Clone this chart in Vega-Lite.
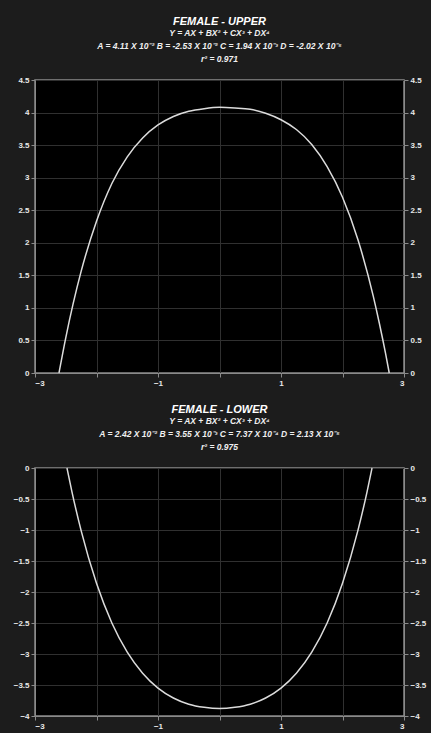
{
  "$schema": "https://vega.github.io/schema/vega-lite/v6.json",
  "background": "#1c1c1c",
  "padding": {"left": 12, "top": 14, "right": 4, "bottom": 2},
  "datasets": {
    "upper": [
      {"x": -2.61, "y": 0}, {"x": -2.5, "y": 0.54}, {"x": -2.25, "y": 1.56}, {"x": -2.0, "y": 2.33},
      {"x": -1.75, "y": 2.91}, {"x": -1.5, "y": 3.32}, {"x": -1.25, "y": 3.61}, {"x": -1.0, "y": 3.81},
      {"x": -0.75, "y": 3.94}, {"x": -0.5, "y": 4.02}, {"x": -0.25, "y": 4.06}, {"x": 0, "y": 4.08},
      {"x": 0.25, "y": 4.07}, {"x": 0.5, "y": 4.05}, {"x": 0.75, "y": 3.99}, {"x": 1.0, "y": 3.89},
      {"x": 1.25, "y": 3.74}, {"x": 1.5, "y": 3.51}, {"x": 1.75, "y": 3.17}, {"x": 2.0, "y": 2.7},
      {"x": 2.25, "y": 2.05}, {"x": 2.5, "y": 1.18}, {"x": 2.6, "y": 0.76}, {"x": 2.7, "y": 0.3},
      {"x": 2.76, "y": 0}
    ],
    "lower": [
      {"x": -2.48, "y": 0}, {"x": -2.4, "y": -0.38}, {"x": -2.25, "y": -1.01}, {"x": -2.0, "y": -1.86},
      {"x": -1.75, "y": -2.5}, {"x": -1.5, "y": -2.97}, {"x": -1.25, "y": -3.31}, {"x": -1.0, "y": -3.55},
      {"x": -0.75, "y": -3.71}, {"x": -0.5, "y": -3.81}, {"x": -0.25, "y": -3.86}, {"x": 0, "y": -3.88},
      {"x": 0.25, "y": -3.86}, {"x": 0.5, "y": -3.81}, {"x": 0.75, "y": -3.71}, {"x": 1.0, "y": -3.55},
      {"x": 1.25, "y": -3.31}, {"x": 1.5, "y": -2.97}, {"x": 1.75, "y": -2.5}, {"x": 2.0, "y": -1.86},
      {"x": 2.25, "y": -1.01}, {"x": 2.4, "y": -0.38}, {"x": 2.48, "y": 0}
    ]
  },
  "config": {
    "font": "Liberation Sans",
    "view": {"fill": "#000000", "stroke": "#8a8a8a", "strokeWidth": 1.5},
    "title": {
      "color": "#ffffff", "fontSize": 11, "fontStyle": "italic", "fontWeight": "bold",
      "subtitleColor": "#f0f0f0", "subtitleFontSize": 8.5, "subtitleFontWeight": "bold", "subtitleLineHeight": 13,
      "subtitleFontStyle": "italic", "subtitlePadding": 2, "offset": 13, "anchor": "middle"
    },
    "axis": {
      "labelColor": "#e8e8e8", "labelFontSize": 8, "labelFontWeight": "bold",
      "domainColor": "#8a8a8a", "tickColor": "#8a8a8a", "tickSize": 4,
      "gridColor": "#303030", "gridWidth": 1, "labelPadding": 2, "title": null, "format": "~g"
    },
    "concat": {"spacing": 14}
  },
  "vconcat": [
    {
      "title": {
        "text": "FEMALE - UPPER",
        "subtitle": ["Y = AX + BX² + CX³ + DX⁴", "A = 4.11 X 10⁻² B = -2.53 X 10⁻² C = 1.94 X 10⁻³ D = -2.02 X 10⁻⁵", "r² = 0.971"]
      },
      "width": 369,
      "height": 293,
      "data": {"name": "upper"},
      "resolve": {"axis": {"y": "independent"}},
      "layer": [
        {
          "mark": {"type": "line", "color": "#dcdcdc", "strokeWidth": 1.5, "interpolate": "monotone"},
          "encoding": {
            "x": {"field": "x", "type": "quantitative", "scale": {"domain": [-3, 3], "nice": false},
                  "axis": {"values": [-3, -2, -1, 0, 1, 2, 3], "labelExpr": "datum.value % 2 != 0 ? datum.label : ''"}},
            "y": {"field": "y", "type": "quantitative", "scale": {"domain": [0, 4.5], "nice": false},
                  "axis": {"orient": "left", "values": [0, 0.5, 1, 1.5, 2, 2.5, 3, 3.5, 4, 4.5]}}
          }
        },
        {
          "mark": {"type": "line", "opacity": 0},
          "encoding": {
            "x": {"field": "x", "type": "quantitative"},
            "y": {"field": "y", "type": "quantitative",
                  "axis": {"orient": "right", "grid": false, "values": [0, 0.5, 1, 1.5, 2, 2.5, 3, 3.5, 4, 4.5]}}
          }
        }
      ]
    },
    {
      "title": {
        "text": "FEMALE - LOWER",
        "subtitle": ["Y = AX + BX² + CX³ + DX⁴", "A = 2.42 X 10⁻² B = 3.55 X 10⁻³ C = 7.37 X 10⁻⁴ D = 2.13 X 10⁻⁵", "r² = 0.975"]
      },
      "width": 369,
      "height": 248,
      "data": {"name": "lower"},
      "resolve": {"axis": {"y": "independent"}},
      "layer": [
        {
          "mark": {"type": "line", "color": "#dcdcdc", "strokeWidth": 1.5, "interpolate": "monotone"},
          "encoding": {
            "x": {"field": "x", "type": "quantitative", "scale": {"domain": [-3, 3], "nice": false},
                  "axis": {"values": [-3, -2, -1, 0, 1, 2, 3], "labelExpr": "datum.value % 2 != 0 ? datum.label : ''"}},
            "y": {"field": "y", "type": "quantitative", "scale": {"domain": [-4, 0], "nice": false},
                  "axis": {"orient": "left", "values": [-4, -3.5, -3, -2.5, -2, -1.5, -1, -0.5, 0]}}
          }
        },
        {
          "mark": {"type": "line", "opacity": 0},
          "encoding": {
            "x": {"field": "x", "type": "quantitative"},
            "y": {"field": "y", "type": "quantitative",
                  "axis": {"orient": "right", "grid": false, "values": [-4, -3.5, -3, -2.5, -2, -1.5, -1, -0.5, 0]}}
          }
        }
      ]
    }
  ]
}
